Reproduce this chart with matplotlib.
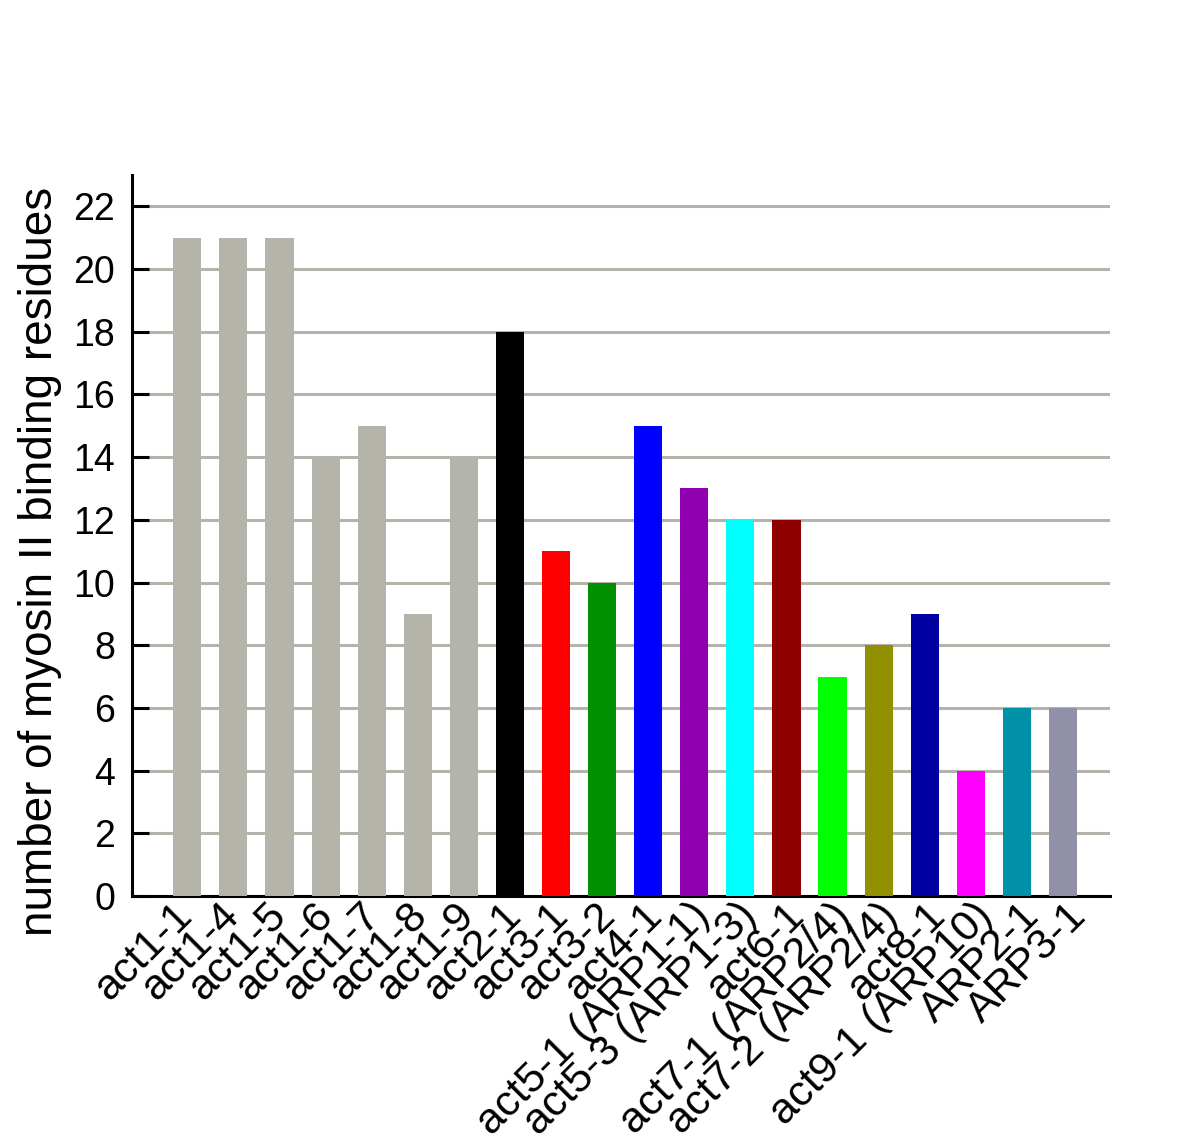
import matplotlib
matplotlib.use("Agg")
import matplotlib.pyplot as plt
from matplotlib.transforms import ScaledTranslation

categories = ["act1-1", "act1-4", "act1-5", "act1-6", "act1-7", "act1-8", "act1-9",
              "act2-1", "act3-1", "act3-2", "act4-1", "act5-1 (ARP1-1)", "act5-3 (ARP1-3)",
              "act6-1", "act7-1 (ARP2/4)", "act7-2 (ARP2/4)", "act8-1", "act9-1 (ARP10)",
              "ARP2-1", "ARP3-1"]
values = [21, 21, 21, 14, 15, 9, 14, 18, 11, 10, 15, 13, 12, 12, 7, 8, 9, 4, 6, 6]
colors = ["#b4b4aa"] * 7 + ["#000000", "#ff0000", "#009000", "#0000ff", "#9000b0",
                            "#00ffff", "#900000", "#00ff00", "#909000", "#0000a0",
                            "#ff00ff", "#0090a8", "#9090a8"]
yticks = list(range(0, 23, 2))

plt.rcParams['font.family'] = ['Liberation Sans', 'DejaVu Sans']

fig = plt.figure(figsize=(12, 11.44), dpi=100)
ax = fig.add_axes([0.11, 0.2168, 0.815, 0.6302])

x = list(range(len(categories)))
ax.bar(x, values, width=0.61, color=colors, zorder=3)

ax.set_xlim(-1.2, 20.02)
ax.set_ylim(0, 23)
ax.set_yticks(yticks)
ax.yaxis.grid(True, color="#b4b4aa", linewidth=2.2, zorder=0)
ax.set_axisbelow(True)

ax.spines['top'].set_visible(False)
ax.spines['right'].set_visible(False)
ax.spines['left'].set_linewidth(2.2)
ax.spines['bottom'].set_linewidth(2.2)

ax.tick_params(axis='y', direction='in', length=12, width=2.2, labelsize=27, pad=12)
ax.tick_params(axis='x', length=0, pad=1)
ax.set_xticks(x)
ax.set_xticklabels(categories, rotation=45, ha='right', rotation_mode='anchor', fontsize=31)
for i, lab in enumerate(ax.get_xticklabels()):
    off = ScaledTranslation((-16.0 + 1.0 * i) / 100, 2.0 / 100, fig.dpi_scale_trans)
    lab.set_transform(lab.get_transform() + off)

fig.text(40 / 1200, 1 - 561 / 1144, "number of myosin II binding residues",
         rotation=90, ha='center', va='center', fontsize=33)

fig.savefig("out.png", dpi=100)
